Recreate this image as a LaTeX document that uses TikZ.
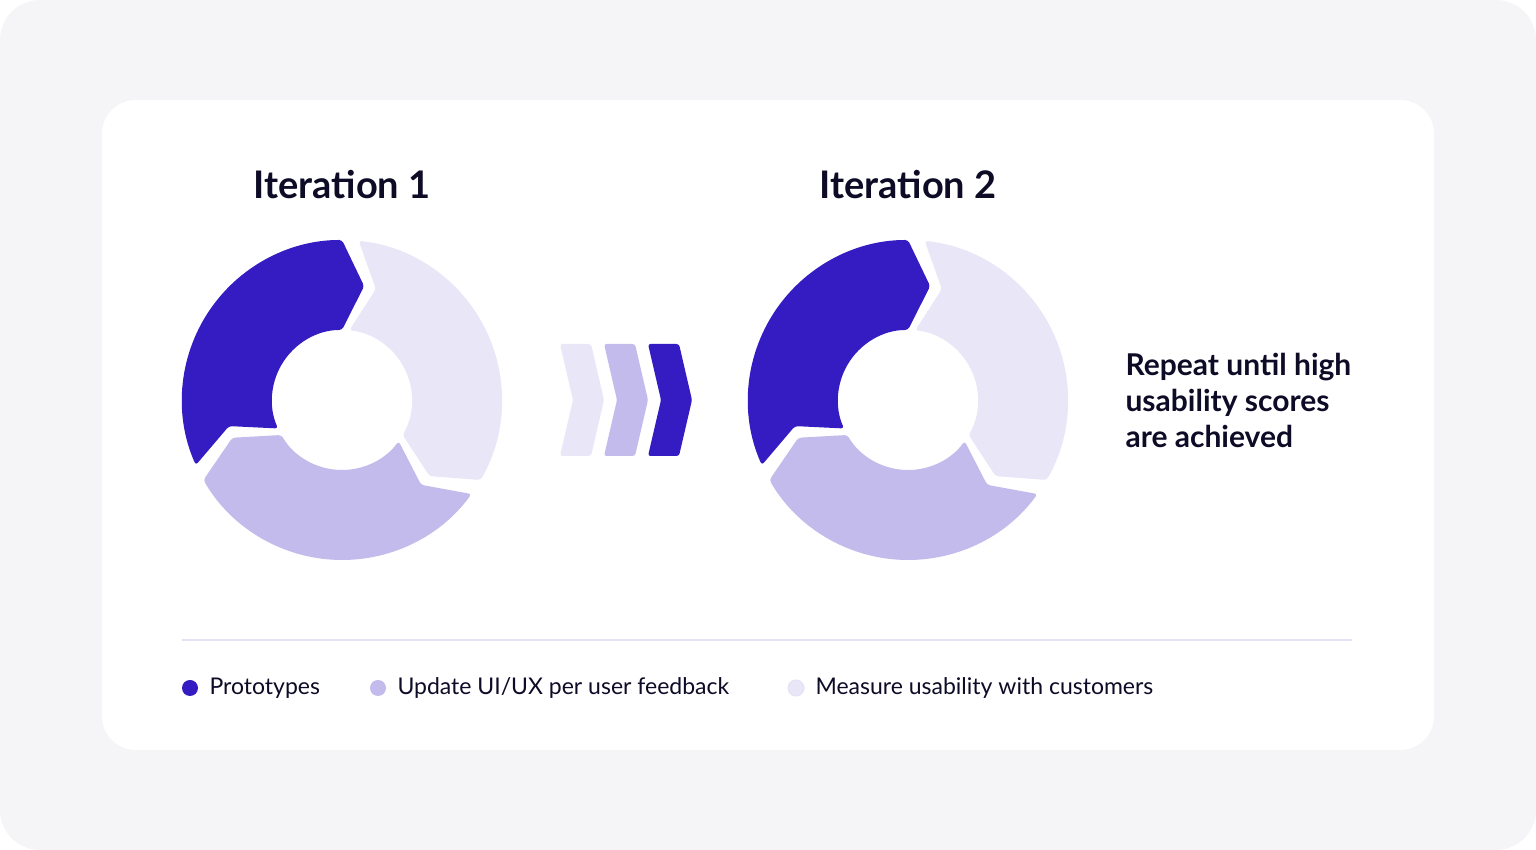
\documentclass[tikz,border=0pt]{standalone}
\usepackage{fontspec}
\setmainfont{Lato}
\definecolor{dark}{HTML}{351CC2}
\definecolor{mid}{HTML}{C3BBEB}
\definecolor{pale}{HTML}{E9E6F8}
\definecolor{backg}{HTML}{F5F5F7}
\definecolor{rule}{HTML}{E4E2F5}
\definecolor{ink}{HTML}{0D0B26}
\tikzset{
  segment/.style={rounded corners=3pt},
  chevron/.style={rounded corners=2.5pt},
  title/.style={font=\fontsize{38}{40}\selectfont\bfseries, text=ink},
  legend/.style={font=\fontsize{23}{26}\selectfont, text=ink, anchor=west},
  dot/.style={circle, minimum size=16pt, inner sep=0pt}
}
\newcommand{\donut}[2]{%
  \foreach \a/\col in {204/dark, 84/pale, -36/mid}
  {
    \pgfmathsetmacro{\b}{\a-114}
    \fill[\col, segment] ([shift={(#1,#2)}]\a:160) arc (\a:\b:160)
      -- ([shift={(#1,#2)}]\b-11:116) -- ([shift={(#1,#2)}]\b:70)
      arc (\b:\a:70) -- ([shift={(#1,#2)}]\a-11:116) -- cycle;
  }
}
\begin{document}
\begin{tikzpicture}[x=1pt, y=1pt]
\useasboundingbox (0,0) rectangle (1536,850);
%% panels
\fill[backg, rounded corners=40pt] (0,0) rectangle (1536,850);
\fill[white, rounded corners=34pt] (102,100) rectangle (1434,750);
%% titles
\node[title] (t1) at (342,665) {Iteration 1};
\node[title] (t2) at (908,665) {Iteration 2};
%% cycles
\donut{342}{450}
\donut{908}{450}
%% chevrons
\foreach \x/\col in {560/pale, 604/mid, 648/dark}
{
  \fill[\col, chevron] (\x,506) -- (\x+31,506) -- (\x+44,450) -- (\x+31,394)
    -- (\x,394) -- (\x+13,450) -- cycle;
}
%% note
\node[font=\fontsize{30}{36}\selectfont\bfseries, text=ink, align=left, anchor=west]
  (note) at (1122,450) {Repeat until high\\usability scores\\are achieved};
%% legend
\draw[rule, line width=1.5pt] (182,210) -- (1352,210);
\node[dot, fill=dark] (k1) at (190,162) {};
\node[dot, fill=mid] (k2) at (378,162) {};
\node[dot, fill=pale, draw=rule, line width=1pt] (k3) at (796,162) {};
\node[legend] (l1) at (206,162) {Prototypes};
\node[legend] (l2) at (394,162) {Update UI/UX per user feedback};
\node[legend] (l3) at (812,162) {Measure usability with customers};
\end{tikzpicture}
\end{document}
